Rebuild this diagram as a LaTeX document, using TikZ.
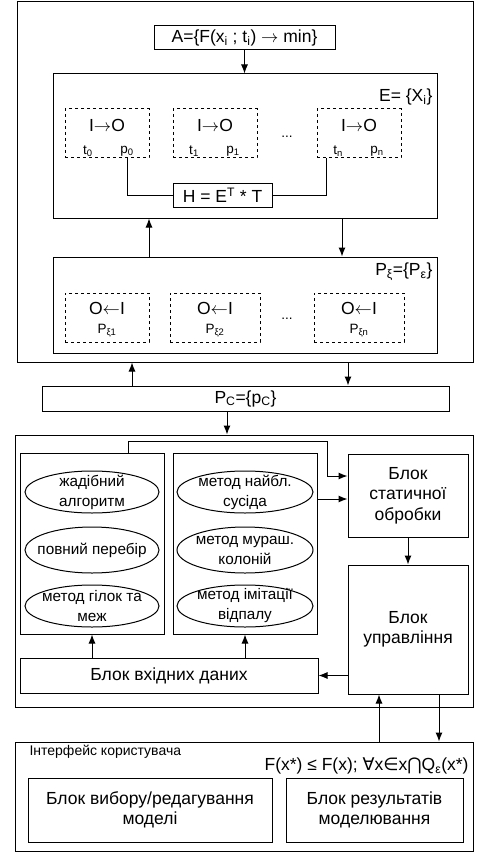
\documentclass[tikz,border=0pt]{standalone}
\usepackage{fontspec}
\setmainfont{Liberation Sans}
\newfontfamily\symfont{DejaVu Sans}
\usetikzlibrary{shapes.geometric,arrows.meta,calc}

\begin{document}
\begin{tikzpicture}[x=1pt,y=-1pt,font=\fontsize{17.5}{20.5}\selectfont,
	blk/.style={draw,line width=1pt,inner sep=0pt,align=center},
	dbox/.style={draw,dashed,line width=1pt,inner sep=0pt},
	oval/.style={draw,ellipse,line width=1pt,inner sep=0pt},
	ovtext/.style={align=center,font=\fontsize{15.3}{20}\selectfont},
	small/.style={font=\fontsize{13.5}{15}\selectfont},
	arr/.style={-{Latex[length=9pt,width=7pt]},line width=1pt}]
	\useasboundingbox (0,0) rectangle (477,853);
	% upper part: model and its elements
	\node[blk,minimum width=456,minimum height=360] (outA) at (245,182) {};
	\node[blk,minimum width=181,minimum height=24] (goal) at (244.5,38) {A=\{F(x\textsubscript{i} ; t\textsubscript{i}) $\rightarrow$ min\}};
	\node[blk,minimum width=384,minimum height=144] (E) at (245,146) {};
	\node[anchor=east] (Elab) at (436,97) {E= \{X\textsubscript{i}\}};
	\draw[arr] (goal.south) -- (goal.south |- E.north);
	\node[dbox,minimum width=84,minimum height=49] (e1) at (107,133.5) {};
	\node[dbox,minimum width=84,minimum height=49] (e2) at (215,133.5) {};
	\node[dbox,minimum width=84,minimum height=49] (e3) at (359,133.5) {};
	\node (io1) at (107,125) {I$\rightarrow$O};
	\node (io2) at (215,125) {I$\rightarrow$O};
	\node (io3) at (359,125) {I$\rightarrow$O};
	\node[small] (t1) at (88,151) {t\textsubscript{0}};
	\node[small] (p1) at (127,151) {p\textsubscript{0}};
	\node[small] (t2) at (194,151) {t\textsubscript{1}};
	\node[small] (p2) at (233,151) {p\textsubscript{1}};
	\node[small] (t3) at (338,151) {t\textsubscript{n}};
	\node[small] (p3) at (377,151) {p\textsubscript{n}};
	\node[small] (edots) at (287,137) {...};
	\node[blk,minimum width=99,minimum height=24] (H) at (222.5,195) {H = E\textsuperscript{T} * T};
	\draw[line width=1pt] (p1 |- e1.south) |- (H.west);
	\draw[line width=1pt] (H.east) -| ($(e3.south west)+(10,0)$);
	\node[blk,minimum width=384,minimum height=96] (P) at (245,305) {};
	\node[anchor=east] (Plab) at (436,272) {P\textsubscript{ξ}=\{P\textsubscript{ε}\}};
	\draw[arr] ([xshift=-96]P.north) -- ([xshift=-96]E.south);
	\draw[arr] ([xshift=97]E.south) -- ([xshift=97]P.north);
	\node[dbox,minimum width=84,minimum height=49] (q1) at (107,317.5) {};
	\node[dbox,minimum width=90,minimum height=49] (q2) at (215,317.5) {};
	\node[dbox,minimum width=90,minimum height=49] (q3) at (359,317.5) {};
	\node (oi1) at (107,308) {O$\leftarrow$I};
	\node (oi2) at (215,308) {O$\leftarrow$I};
	\node (oi3) at (359,308) {O$\leftarrow$I};
	\node[small] (pq1) at (107,331) {P\textsubscript{ξ1}};
	\node[small] (pq2) at (215,331) {P\textsubscript{ξ2}};
	\node[small] (pq3) at (359,331) {P\textsubscript{ξn}};
	\node[small] (pdots) at (287,319) {...};
	% criteria
	\node[blk,minimum width=407,minimum height=25] (PC) at (245.5,398.5) {P\textsubscript{C}=\{p\textsubscript{C}\}};
	\draw[arr] ([xshift=-113.5]PC.north) -- ([xshift=-113.5]PC.north |- outA.south);
	\draw[arr] ([xshift=103]outA.south) -- ([xshift=103]outA.south |- PC.north);
	% processing part
	\node[blk,minimum width=458,minimum height=272] (outB) at (244,571) {};
	\draw[arr] ([xshift=-18.5]PC.south) -- ([xshift=-18.5]PC.south |- outB.north);
	\node[blk,minimum width=144,minimum height=181] (algL) at (92,543.5) {};
	\node[blk,minimum width=144,minimum height=181] (algM) at (245,543.5) {};
	\node[oval,minimum width=134,minimum height=42] (m1) at (92,492) {};
	\node[oval,minimum width=134,minimum height=46] (m2) at (92,550) {};
	\node[oval,minimum width=134,minimum height=42] (m3) at (92,606) {};
	\node[oval,minimum width=136,minimum height=42] (m4) at (245,492) {};
	\node[oval,minimum width=136,minimum height=46] (m5) at (245,550) {};
	\node[oval,minimum width=136,minimum height=42] (m6) at (245,606) {};
	\node[ovtext] (m1t) at (m1) {жадібний\\алгоритм};
	\node[ovtext] (m2t) at (m2) {повний перебір};
	\node[ovtext] (m3t) at (m3) {метод гілок та\\меж};
	\node[ovtext] (m4t) at (m4) {метод найбл.\\сусіда};
	\node[ovtext] (m5t) at (m5) {метод мураш.\\колоній};
	\node[ovtext] (m6t) at (m6) {метод імітації\\відпалу};
	\node[blk,minimum width=120,minimum height=83] (stat) at (408,495.5) {Блок\\статичної\\обробки};
	\node[blk,minimum width=120,minimum height=129] (ctrl) at (408,629.5) {Блок\\управління};
	\node[blk,minimum width=298,minimum height=35] (inp) at (169,675.5) {Блок вхідних даних};
	\draw[arr] ([xshift=36]algL.north) -- ++(0,-11) -| ([xshift=-20,yshift=19.5]stat.west) -- ([yshift=19.5]stat.west);
	\draw[arr] ([yshift=44.5]algM.east) -- ([yshift=44.5]algM.east -| stat.west);
	\draw[arr] (stat.south) -- (ctrl.north);
	\draw[arr] (ctrl.west |- inp.east) -- (inp.east);
	\draw[arr] (algL.south |- inp.north) -- (algL.south);
	\draw[arr] (algM.south |- inp.north) -- (algM.south);
	% user interface
	\node[blk,minimum width=458,minimum height=109] (ui) at (244,796.5) {};
	\node[anchor=west,font=\fontsize{14}{16}\selectfont] (uilab) at (26,752) {Інтерфейс користувача};
	\node[anchor=east] (crit) at (472,766) {F(x*) ≤ F(x); {\symfont ∀}x{\symfont ∈}x{\symfont ⋂}Q\textsubscript{ε}(x*)};
	\draw[arr] ([xshift=-29]ctrl.south |- ui.north) -- ([xshift=-29]ctrl.south);
	\draw[arr] ([xshift=31]ctrl.south) -- ([xshift=31]ctrl.south |- ui.north);
	\node[blk,minimum width=244,minimum height=64] (sel) at (150,810) {Блок вибору/редагування\\моделі};
	\node[blk,minimum width=177,minimum height=64] (res) at (374.5,810) {Блок результатів\\моделювання};
\end{tikzpicture}
\end{document}
